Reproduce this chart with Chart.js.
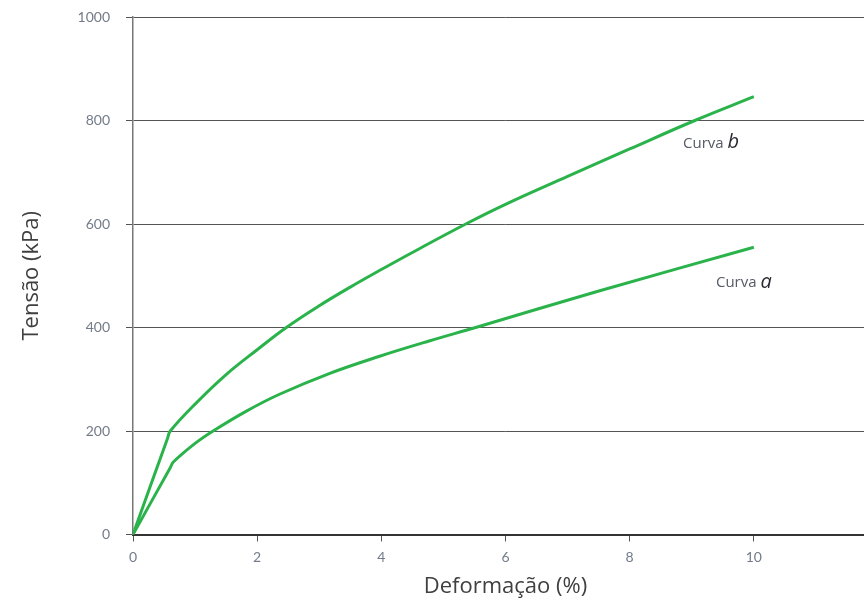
<!DOCTYPE html>
<html>
<head>
<meta charset="utf-8">
<script src="https://cdn.jsdelivr.net/npm/chart.js@4.4.0/dist/chart.umd.min.js"></script>
<style>
  html, body { margin: 0; padding: 0; overflow: hidden; background: #fff; }
  #wrap { position: absolute; left: 0; top: 0; width: 900px; height: 600px; }
</style>
</head>
<body>
<div id="wrap"><canvas id="chart" width="900" height="600"></canvas></div>
<script>
// Curva a
const curveAx = [0, 0.6, 0.65, 1, 1.29, 1.82, 2.36, 3.16, 3.96, 4.77, 5.52, 7.49, 10];
const curveAy = [0, 129, 140, 176, 200, 238, 271, 311, 344, 374, 400, 470, 555];
// Curva b
const curveBx = [0, 0.56, 0.6, 1, 1.5, 2, 2.47, 3, 3.5, 4, 4.5, 5.36, 6, 7, 8, 9.05, 10];
const curveBy = [0, 187, 200, 252, 309, 357, 400, 442, 478, 512, 545, 600, 638, 692, 745, 800, 846];

const xTicks = [0, 2, 4, 6, 8, 10, 12];
const yTicks = [0, 200, 400, 600, 800, 1000];

const green = '#2bb34b';
const tickColor = '#737b8a';
const titleColor = '#404040';

const toPoints = (xs, ys) => xs.map((x, i) => ({ x: x, y: ys[i] }));

// text labels next to the curves, placed in data coordinates
const curveLabels = {
  id: 'curveLabels',
  afterDatasetsDraw(chart) {
    const { ctx, scales: { x, y } } = chart;
    const items = [
      { x: 8.86, y: 755, letter: 'b' },
      { x: 9.39, y: 486, letter: 'a' }
    ];
    ctx.save();
    ctx.textBaseline = 'middle';
    items.forEach(it => {
      const px = x.getPixelForValue(it.x);
      const py = y.getPixelForValue(it.y);
      ctx.font = '15px "Open Sans"';
      ctx.fillStyle = '#555a66';
      ctx.fillText('Curva', px, py);
      const w = ctx.measureText('Curva ').width;
      ctx.font = 'italic 20px "Open Sans"';
      ctx.fillStyle = '#2a2a33';
      ctx.fillText(it.letter, px + w, py - 1);
    });
    ctx.restore();
  }
};

const lineStyle = {
  showLine: true,
  borderColor: green,
  borderWidth: 3,
  pointRadius: 0,
  tension: 0.4,
  borderJoinStyle: 'round',
  fill: false
};

new Chart(document.getElementById('chart'), {
  type: 'scatter',
  data: {
    datasets: [
      Object.assign({ label: 'Curva a', data: toPoints(curveAx, curveAy) }, lineStyle),
      Object.assign({ label: 'Curva b', data: toPoints(curveBx, curveBy) }, lineStyle)
    ]
  },
  options: {
    responsive: false,
    animation: false,
    layout: { padding: { top: 17, right: 22, bottom: 0, left: 0 } },
    plugins: {
      legend: { display: false },
      tooltip: { enabled: false }
    },
    scales: {
      x: {
        type: 'linear',
        min: 0,
        max: 12,
        afterBuildTicks: s => { s.ticks = xTicks.map(v => ({ value: v })); },
        afterFit: s => { s.height = 65.5; },
        ticks: { color: tickColor, font: { family: 'Lato', size: 14 }, padding: 8, callback: v => String(v) },
        grid: { drawOnChartArea: false, drawTicks: true, tickLength: 7, color: '#555' },
        border: { color: '#333', width: 2 },
        title: {
          display: true,
          text: 'Deformação (%)',
          color: titleColor,
          font: { family: 'Open Sans', size: 22 },
          padding: { top: 4, bottom: 0 }
        }
      },
      y: {
        type: 'linear',
        min: 0,
        max: 1000,
        afterBuildTicks: s => { s.ticks = yTicks.map(v => ({ value: v })); },
        afterFit: s => { s.width = 133; s.paddingTop = 0; s.paddingBottom = 0; },
        ticks: { color: tickColor, font: { family: 'Lato', size: 14 }, padding: 16, callback: v => String(v) },
        grid: { color: '#555', lineWidth: 1, tickLength: 7 },
        border: { color: '#777', width: 1.5 },
        title: {
          display: true,
          text: 'Tensão (kPa)',
          color: titleColor,
          font: { family: 'Open Sans', size: 22 },
          padding: { top: 19, bottom: 4 }
        }
      }
    }
  },
  plugins: [curveLabels]
});
</script>
</body>
</html>
